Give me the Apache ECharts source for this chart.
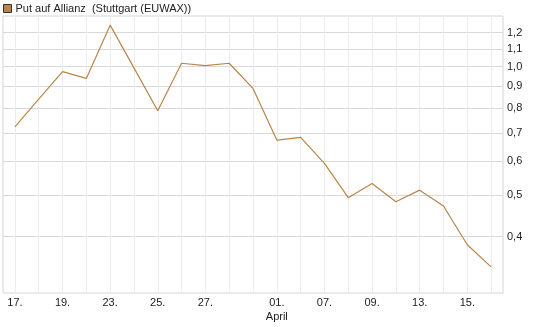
<!DOCTYPE html>
<html>
<head>
<meta charset="utf-8">
<script src="https://cdn.jsdelivr.net/npm/echarts@6/dist/echarts.min.js"></script>
<style>
  html, body { margin: 0; padding: 0; background: #fff; }
  #chart { width: 545px; height: 327px; }
</style>
</head>
<body>
<div id="chart"></div>
<script>
// x-Achse: Beschriftung nur an jedem zweiten Handelstag
const tage = ["17.", "", "19.", "", "23.", "", "25.", "", "27.", "", "", "01.", "", "07.", "", "09.", "", "13.", "", "15.", ""];
const monate = ["", "", "", "", "", "", "", "", "", "", "", "April", "", "", "", "", "", "", "", "", ""];

// Kurs (log-Skala)
const kurse = [0.723, 0.839, 0.973, 0.938, 1.25, 0.993, 0.788, 1.018, 1.005, 1.018, 0.889,
  0.673, 0.683, 0.594, 0.4935, 0.533, 0.483, 0.514, 0.472, 0.383, 0.34];

const yTicks = [0.4, 0.5, 0.6, 0.7, 0.8, 0.9, 1.0, 1.1, 1.2];

const chart = echarts.init(document.getElementById("chart"));

const option = {
  animation: false,
  textStyle: { fontFamily: "Liberation Sans, Arial, sans-serif" },
  legend: {
    left: 3,
    top: 3,
    padding: 0,
    itemWidth: 8,
    itemHeight: 8,
    itemGap: 4,
    icon: "rect",
    textStyle: { fontSize: 11, color: "#222", padding: [0, 0, 0, -1] },
    data: [{
      name: "Put auf Allianz  (Stuttgart (EUWAX))",
      itemStyle: { color: "#b8864a", borderColor: "#333", borderWidth: 1 },
    }],
  },
  grid: {
    left: 3,
    right: 42,
    top: 16,
    bottom: 34,
    show: true,
    borderColor: "#d4d4d4",
    borderWidth: 1,
  },
  xAxis: {
    type: "category",
    boundaryGap: true,
    data: tage,
    axisLine: { show: false },
    axisTick: { show: false, alignWithLabel: true },
    splitLine: { show: true, alignWithLabel: true, lineStyle: { color: "#ececec", width: 1 } },
    axisLabel: {
      interval: 0,
      margin: 3,
      color: "#222",
      fontSize: 11,
      lineHeight: 14,
      verticalAlign: "top",
      formatter: (value, idx) => {
        return monate[idx] ? value + "\n" + monate[idx] : value;
      },
    },
  },
  yAxis: {
    type: "log",
    position: "right",
    min: 0.2954,
    max: 1.313,
    axisLine: { show: false },
    axisTick: { show: false, customValues: yTicks },
    splitLine: { show: true, lineStyle: { color: "#d8d8d8", width: 1 } },
    axisLabel: {
      customValues: yTicks,
      margin: 4,
      color: "#222",
      fontSize: 11,
      formatter: (v) => {
        return v.toFixed(1).replace(".", ",");
      },
    },
  },
  series: [
    {
      name: "Put auf Allianz  (Stuttgart (EUWAX))",
      type: "line",
      data: kurse,
      symbol: "none",
      lineStyle: { color: "#b8864a", width: 1.2 },
      itemStyle: { color: "#b8864a" },
    },
  ],
};

chart.setOption(option);
</script>
</body>
</html>
